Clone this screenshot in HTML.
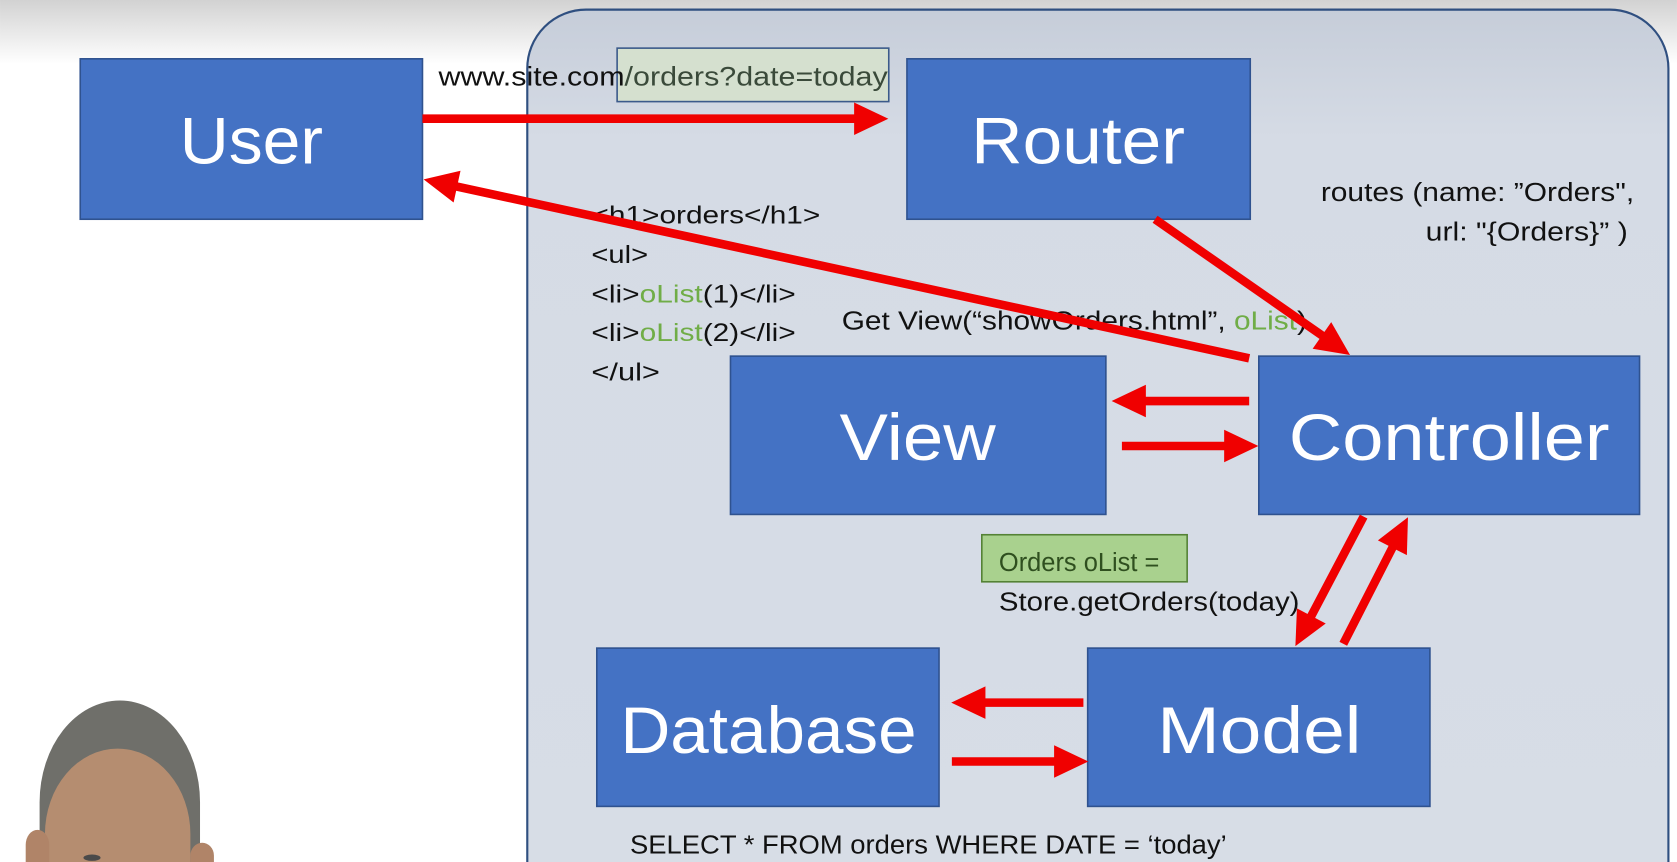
<!DOCTYPE html>
<html><head><meta charset="utf-8"><style>
html,body{margin:0;padding:0;background:#fff;overflow:hidden;width:1677px;height:862px}
svg{display:block;overflow:hidden}
text{font-family:"Liberation Sans",sans-serif}
</style></head><body>
<svg width="1677" height="862" viewBox="0 0 1568 806" xmlns="http://www.w3.org/2000/svg">
<defs>
<linearGradient id="top" x1="0" y1="0" x2="0" y2="1">
<stop offset="0" stop-color="#d2d2d2"/><stop offset="1" stop-color="#ffffff"/></linearGradient>
<linearGradient id="panel" x1="0" y1="0" x2="0" y2="1">
<stop offset="0" stop-color="#c6cdd9"/><stop offset="0.15" stop-color="#d5dbe5"/><stop offset="1" stop-color="#d7dde6"/></linearGradient>
<marker id="ah" markerWidth="4" markerHeight="4" refX="0" refY="2" orient="auto" markerUnits="strokeWidth" overflow="visible">
<path d="M-0.3,0.1 L3.7,2 L-0.3,3.9 z" fill="#f00000"/></marker>
</defs>
<rect x="0" y="0" width="1568" height="60" fill="url(#top)"/>
<path d="M493,806 L493,64 A55,55 0 0 1 548,9 L1505,9 A55,55 0 0 1 1560,64 L1560,806 Z" fill="url(#panel)"/>
<path d="M493,806 L493,64 A55,55 0 0 1 548,9 L1505,9 A55,55 0 0 1 1560,64 L1560,806" fill="none" stroke="#2f4f80" stroke-width="2"/>

<g fill="#4472c4" stroke="#2f528f" stroke-width="1.5">
<rect x="75" y="55" width="320" height="150"/>
<rect x="848" y="55" width="321" height="150"/>
<rect x="683" y="333" width="351" height="148"/>
<rect x="1177" y="333" width="356" height="148"/>
<rect x="558" y="606" width="320" height="148"/>
<rect x="1017" y="606" width="320" height="148"/>
</g>
<g fill="#fff" font-size="62">
<text x="168" y="153" textLength="134" lengthAdjust="spacingAndGlyphs">User</text>
<text x="908" y="153" textLength="200" lengthAdjust="spacingAndGlyphs">Router</text>
<text x="785" y="430" textLength="146" lengthAdjust="spacingAndGlyphs">View</text>
<text x="1205" y="430" textLength="300" lengthAdjust="spacingAndGlyphs">Controller</text>
<text x="580" y="704" textLength="277" lengthAdjust="spacingAndGlyphs">Database</text>
<text x="1082" y="704" textLength="191" lengthAdjust="spacingAndGlyphs">Model</text>
</g>

<rect x="577" y="45" width="254" height="50" fill="#d5e0cf" stroke="#3b5a8a" stroke-width="1.5"/>
<text x="410" y="80" font-size="25" fill="#111" textLength="420" lengthAdjust="spacingAndGlyphs">www.site.com<tspan fill="#3a4a3a">/orders?date=today</tspan></text>

<rect x="918" y="500" width="192" height="44" fill="#a9d18e" stroke="#548235" stroke-width="1.5"/>
<text x="934" y="534" font-size="24" fill="#2f4f1f" textLength="150" lengthAdjust="spacingAndGlyphs">Orders oList =</text>
<text x="934" y="571" font-size="24" fill="#111" textLength="281" lengthAdjust="spacingAndGlyphs">Store.getOrders(today)</text>

<g font-size="23" fill="#111">
<text x="553" y="209" textLength="214" lengthAdjust="spacingAndGlyphs">&lt;h1&gt;orders&lt;/h1&gt;</text>
<text x="553" y="246" textLength="53" lengthAdjust="spacingAndGlyphs">&lt;ul&gt;</text>
<text x="553" y="283" textLength="191" lengthAdjust="spacingAndGlyphs">&lt;li&gt;<tspan fill="#70ad47">oList</tspan>(1)&lt;/li&gt;</text>
<text x="553" y="319" textLength="191" lengthAdjust="spacingAndGlyphs">&lt;li&gt;<tspan fill="#70ad47">oList</tspan>(2)&lt;/li&gt;</text>
<text x="553" y="356" textLength="64" lengthAdjust="spacingAndGlyphs">&lt;/ul&gt;</text>
<text x="787" y="308" font-size="24" textLength="435" lengthAdjust="spacingAndGlyphs">Get View(“showOrders.html”, <tspan fill="#70ad47">oList</tspan>)</text>
<text x="1235" y="188" font-size="24" textLength="293" lengthAdjust="spacingAndGlyphs">routes (name: ”Orders",</text>
<text x="1333" y="225" font-size="24" textLength="189" lengthAdjust="spacingAndGlyphs">url: "{Orders}” )</text>
<text x="589" y="798" font-size="24" textLength="558" lengthAdjust="spacingAndGlyphs">SELECT * FROM orders WHERE DATE = ‘today’</text>
</g>

<g stroke="#f00000" stroke-width="8" marker-end="url(#ah)" fill="none">
<line x1="395" y1="111" x2="801" y2="111"/>
<line x1="1168" y1="335" x2="425" y2="174"/>
<line x1="1080" y1="205" x2="1238" y2="315"/>
<line x1="1168" y1="375" x2="1069" y2="375"/>
<line x1="1049" y1="417" x2="1147" y2="417"/>
<line x1="1275" y1="483" x2="1225" y2="578"/>
<line x1="1256" y1="602" x2="1303" y2="510"/>
<line x1="1013" y1="657" x2="919" y2="657"/>
<line x1="890" y1="712" x2="988" y2="712"/>
</g>

<!-- person -->
<path d="M37,806 L37,750 A75,95 0 0 1 187,750 L187,806 Z" fill="#6f6f6a"/>
<path d="M42,806 L42,780 A68,80 0 0 1 178,780 L178,806 Z" fill="#b58d70"/>
<path d="M24,806 L24,790 A11,14 0 0 1 46,790 L46,806 Z" fill="#b08468"/>
<path d="M178,806 L178,800 A11,12 0 0 1 200,800 L200,806 Z" fill="#b08468"/>
<ellipse cx="86" cy="802" rx="8" ry="3" fill="#4a4a4a"/>
</svg>
</body></html>
